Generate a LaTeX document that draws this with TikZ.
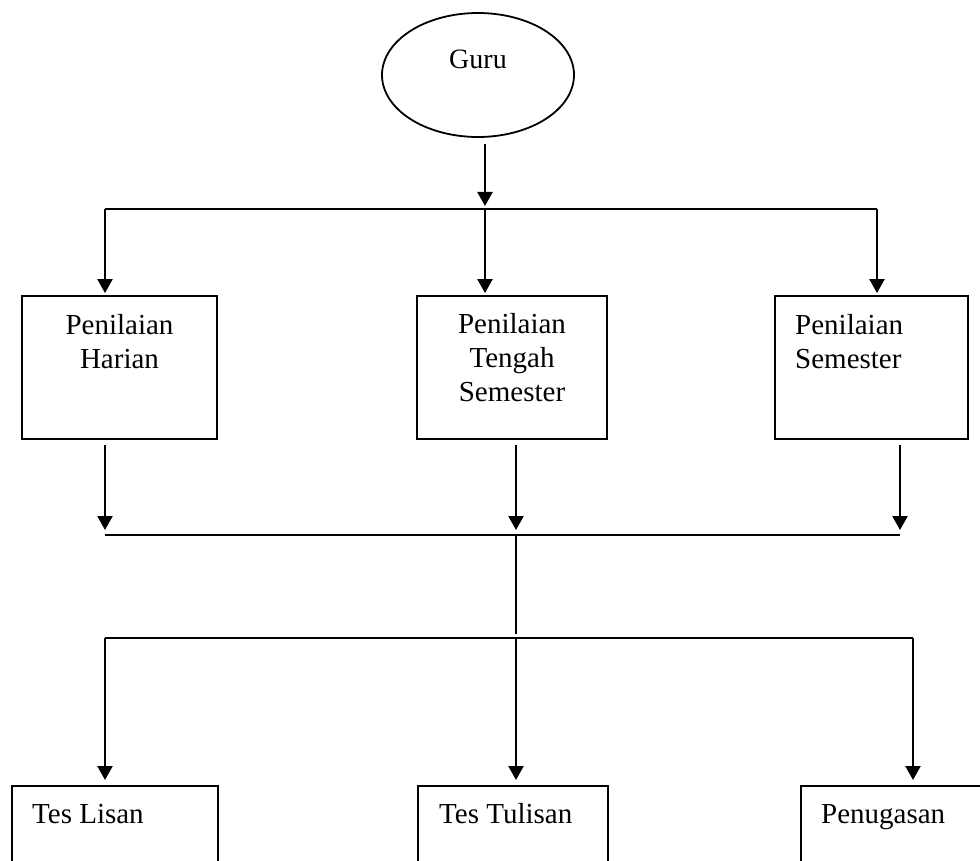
\documentclass[tikz,border=0pt]{standalone}
\usepackage{fontspec}
\setmainfont{Liberation Serif}
\usetikzlibrary{arrows.meta,shapes.geometric}

\begin{document}
\begin{tikzpicture}[x=1pt,y=-1pt,
  line/.style={line width=1.8pt},
  arr/.style={line width=2.2pt,-{Triangle[width=15pt,length=14pt]}},
  box/.style={draw,line width=1.8pt,rectangle,inner sep=0pt},
  txt/.style={font=\fontsize{29}{34}\selectfont,inner sep=0pt}]
  \useasboundingbox (0,0) rectangle (980,861);
  \clip (0,0) rectangle (980,861);

  % top: teacher
  \node[draw,ellipse,line width=1.8pt,minimum width=192pt,minimum height=124pt,inner sep=0pt] (guru) at (478,75) {};
  \node[txt,anchor=base,font=\fontsize{28}{34}\selectfont] (gurut) at (478,69) {Guru};

  % assessment boxes
  \node[box,minimum width=195pt,minimum height=143pt] (ph) at (119.5,367.5) {};
  \node[box,minimum width=190pt,minimum height=143pt] (pts) at (512,367.5) {};
  \node[box,minimum width=193pt,minimum height=143pt] (ps) at (871.5,367.5) {};
  % multi-line text: base anchor sits on the last line
  \node[txt,anchor=base,align=center] (pht) at (119.5,368) {Penilaian\\Harian};
  \node[txt,anchor=base,align=center] (ptst) at (512,401) {Penilaian\\Tengah\\Semester};
  \node[txt,anchor=base west,align=left] (pst) at (795,368) {Penilaian\\Semester};

  % technique boxes (running off the page bottom)
  \node[box,minimum width=206pt,minimum height=160pt,anchor=north west] (tl) at (11,785) {};
  \node[box,minimum width=190pt,minimum height=160pt,anchor=north west] (tt) at (417,785) {};
  \node[box,minimum width=200pt,minimum height=160pt,anchor=north west] (pg) at (800,785) {};
  \node[txt,anchor=base west] (tlt) at (32,823) {Tes Lisan};
  \node[txt,anchor=base west] (ttt) at (439,823) {Tes Tulisan};
  \node[txt,anchor=base west] (pgt) at (821,823) {Penugasan};

  % junctions
  \coordinate (g0) at (485,209);
  \coordinate (a1) at (105,209);
  \coordinate (a2) at (485,209);
  \coordinate (a3) at (877,209);
  \coordinate (m1) at (105,535);
  \coordinate (m2) at (516,535);
  \coordinate (m3) at (900,535);
  \coordinate (n1) at (105,638);
  \coordinate (n2) at (516,638);
  \coordinate (n3) at (913,638);

  % teacher to assessments
  \draw[arr,shorten <=6pt,shorten >=3pt] (guru.south -| g0) -- (g0);
  \draw[line] (a1) -- (a3);
  \draw[arr,shorten >=2pt] (a1) -- (a1 |- ph.north);
  \draw[arr,shorten >=2pt] (a2) -- (a2 |- pts.north);
  \draw[arr,shorten >=2pt] (a3) -- (a3 |- ps.north);

  % assessments to collector
  \draw[arr,shorten <=5pt,shorten >=5pt] (m1 |- ph.south) -- (m1);
  \draw[arr,shorten <=5pt,shorten >=5pt] (m2 |- pts.south) -- (m2);
  \draw[arr,shorten <=5pt,shorten >=5pt] (m3 |- ps.south) -- (m3);
  \draw[line] (m1) -- (m3);
  \draw[line width=1.5pt,shorten >=4pt] (m2) -- (n2);

  % collector to techniques
  \draw[line] (n1) -- (n3);
  \draw[arr,shorten >=5pt] (n1) -- (n1 |- tl.north);
  \draw[arr,shorten >=5pt] (n2) -- (n2 |- tt.north);
  \draw[arr,shorten >=5pt] (n3) -- (n3 |- pg.north);
\end{tikzpicture}
\end{document}
